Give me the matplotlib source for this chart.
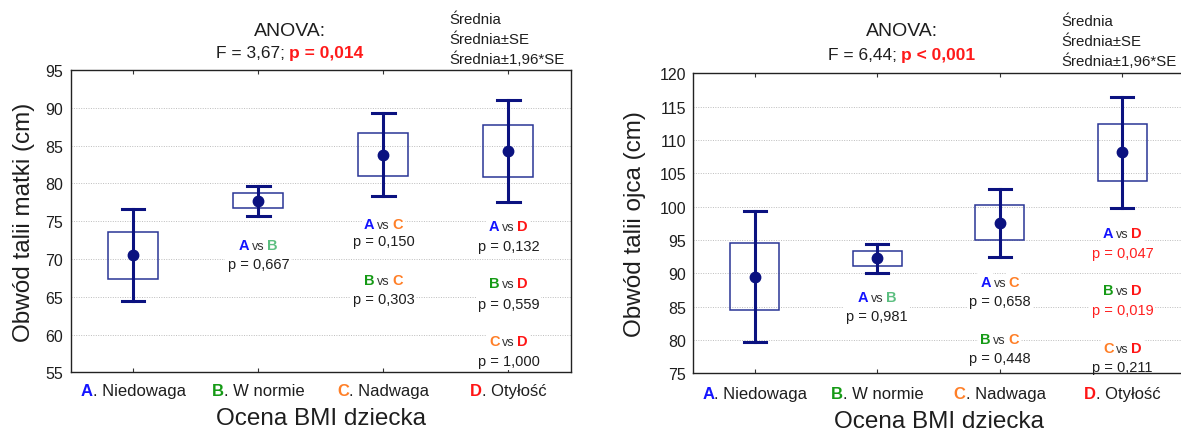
import numpy as np
import matplotlib.pyplot as plt
from matplotlib import transforms
from matplotlib.patches import Rectangle

plt.rcParams['font.family'] = ['Liberation Sans', 'DejaVu Sans']

W, H = 1181, 435

letters = ['A', 'B', 'C', 'D']
groups = ['Niedowaga', 'W normie', 'Nadwaga', 'Otyłość']
letter_colors = ['#1414ff', '#159a15', '#ff7f27', '#ff1515']

mother_mean = [70.5, 77.7, 83.8, 84.3]
mother_se = [3.1, 1.0, 2.8, 3.45]
father_mean = [89.5, 92.25, 97.6, 108.15]
father_se = [5.0, 1.1, 2.6, 4.25]

anova_F = ['3,67', '6,44']
anova_p = ['p = 0,014', 'p < 0,001']

pairs = [('A', 'B'), ('A', 'C'), ('B', 'C'), ('A', 'D'), ('B', 'D'), ('C', 'D')]
mother_pair_p = ['0,667', '0,150', '0,303', '0,132', '0,559', '1,000']
father_pair_p = ['0,981', '0,658', '0,448', '0,047', '0,019', '0,211']

ylabels = ['Obwód talii matki (cm)', 'Obwód talii ojca (cm)']
xlabel = 'Ocena BMI dziecka'
legend_lines = ['Średnia', 'Średnia±SE', 'Średnia±1,96*SE']

# text centres (data units) of the pairwise comparison labels
mother_pair_y = [(72.0, 69.55), (74.85, 72.5), (67.35, 64.9), (74.5, 71.85), (67.0, 64.26), (59.3, 56.67)]
father_pair_y = [(86.64, 83.75), (88.9, 86.0), (80.4, 77.5), (96.24, 93.3), (87.65, 84.75), (79.05, 76.15)]

navy = '#0b1280'
box_col = '#2a3596'
txt = '#1e1e1e'

fig = plt.figure(figsize=(W / 100, H / 100), dpi=100)
renderer = fig.canvas.get_renderer()


def px(x, y):
    return x / W, 1 - y / H


def rich(owner, x, y, parts, transform, gap=0.0, box=False, zorder=3):
    # draw several differently styled strings side by side, centred on x
    widths = []
    for s, kw in parts:
        t = fig.text(0, 0, s, **kw)
        widths.append(t.get_window_extent(renderer).width)
        t.remove()
    total = sum(widths) + gap * (len(parts) - 1)
    size = max(kw.get('fontsize', 10) for s, kw in parts)
    dy = -0.36 * size * 100 / 72
    off = -total / 2
    for (s, kw), w in zip(parts, widths):
        tr = transforms.offset_copy(transform, fig=fig, x=off, y=dy, units='dots')
        extra = {}
        if box:
            extra['bbox'] = dict(fc='white', ec='none', pad=1.5)
        owner.text(x, y, s, transform=tr, ha='left', va='baseline',
                   clip_on=False, zorder=zorder, **kw, **extra)
        off += w + gap


def panel(rect, mean, se, ylim, pair_p, pair_y, k, tick_y_px, xlabel_xy, ylabel_xy,
          title_x, title_y, legend_x, legend_y):
    ax = fig.add_axes(rect)
    mean = np.array(mean)
    se = np.array(se)
    x = np.arange(len(mean))
    for i in x:
        ax.add_patch(Rectangle((i - 0.2, mean[i] - se[i]), 0.4, 2 * se[i],
                               fill=False, ec=box_col, lw=1.1, zorder=2))
        lo, hi = mean[i] - 1.96 * se[i], mean[i] + 1.96 * se[i]
        ax.plot([i, i], [lo, hi], color=navy, lw=2.2, zorder=3)
        ax.plot([i - 0.09, i + 0.09], [lo, lo], color=navy, lw=2.2, zorder=3)
        ax.plot([i - 0.09, i + 0.09], [hi, hi], color=navy, lw=2.2, zorder=3)
    ax.plot(x, mean, 'o', color=navy, ms=7.5, zorder=4)

    ax.set_xlim(-0.5, 3.5)
    ax.set_ylim(*ylim)
    ax.set_yticks(np.arange(ylim[0], ylim[1] + 1, 5))
    ax.set_xticks(x)
    ax.set_xticklabels([])
    ax.tick_params(axis='x', direction='in', length=3, top=True, color='#333333')
    ax.tick_params(axis='y', length=0, pad=5.3, labelsize=11.5, labelcolor=txt)
    ax.set_axisbelow(True)
    ax.yaxis.grid(True, linestyle=(0, (1, 1.5)), color='#bdbdbd', lw=0.7)
    for sp in ax.spines.values():
        sp.set_linewidth(1.0)
        sp.set_color('#222222')

    # category labels with coloured letters
    y_ax = (1 - tick_y_px / H - rect[1]) / rect[3]
    for i, (L, g) in enumerate(zip(letters, groups)):
        rich(ax, i, y_ax, [(L, dict(fontsize=12, color=letter_colors[i], fontweight='bold')),
                           ('. ' + g, dict(fontsize=12, color=txt))],
             ax.get_xaxis_transform())

    # pairwise comparisons
    for (a, b), p, (y1, y2) in zip(pairs, pair_p, pair_y):
        xi = letters.index(b)
        cb = letter_colors[letters.index(b)]
        if (a, b) == ('A', 'B'):
            cb = '#5cbf80'
        rich(ax, xi, y1, [(a, dict(fontsize=10.5, color=letter_colors[letters.index(a)], fontweight='bold')),
                          ('vs', dict(fontsize=9, color='#333333')),
                          (b, dict(fontsize=10.5, color=cb, fontweight='bold'))],
             ax.transData, gap=2.5, box=True, zorder=2.4)
        pcol = '#ff2020' if float(p.replace(',', '.')) < 0.05 else txt
        rich(ax, xi, y2, [('p = ' + p, dict(fontsize=10.5, color=pcol))],
             ax.transData, box=True, zorder=2.4)

    fig.text(*px(*ylabel_xy), ylabels[k], rotation=90, ha='center', va='center',
             fontsize=17.5, color=txt)
    fig.text(*px(*xlabel_xy), xlabel, ha='center', va='center', fontsize=17.5, color=txt)

    fig.text(*px(title_x, title_y[0]), 'ANOVA:', ha='center', va='center', fontsize=14, color=txt)
    rich(fig, *px(title_x, title_y[1]),
         [('F = ' + anova_F[k] + ';', dict(fontsize=12.5, color=txt)),
          (anova_p[k], dict(fontsize=12.5, color='#ff1a1a', fontweight='bold'))],
         fig.transFigure, gap=4)

    for s, yy in zip(legend_lines, legend_y):
        fig.text(*px(legend_x, yy), s, ha='left', va='center', fontsize=10.8, color=txt)
    return ax


panel([70.7 / W, 1 - 373.3 / H, 500.3 / W, 302.3 / H], mother_mean, mother_se, (55, 95),
      mother_pair_p, mother_pair_y, 0, 390, (321, 419), (24.5, 222),
      290, (31.7, 51.7), 449.7, (20, 40, 59))
panel([693.3 / W, 1 - 374.3 / H, 490.4 / W, 300 / H], father_mean, father_se, (75, 120),
      father_pair_p, father_pair_y, 1, 392.7, (938.5, 422.5), (635, 224.3),
      902, (31.7, 53.3), 1061, (21.7, 42.3, 61.7))

fig.savefig('out.png', dpi=100)
